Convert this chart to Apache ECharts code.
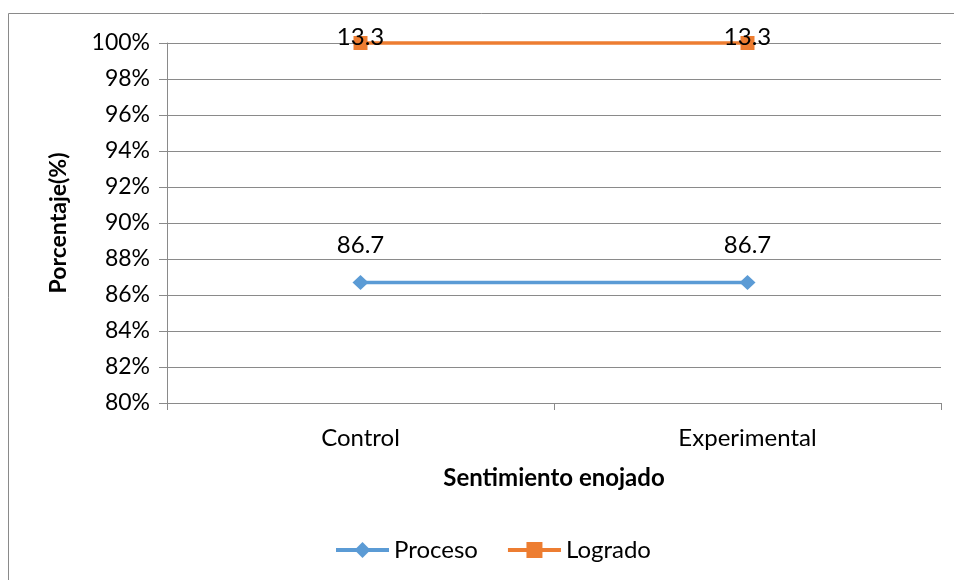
<!DOCTYPE html>
<html>
<head>
<meta charset="utf-8">
<script src="https://cdn.jsdelivr.net/npm/echarts@6/dist/echarts.min.js"></script>
<style>html,body{margin:0;padding:0;background:#fff}#c{width:954px;height:580px}</style>
</head>
<body>
<div id="c"></div>
<script>
const categories = ['Control', 'Experimental'];
const proceso = [86.7, 86.7];
const logrado = [13.3, 13.3];
const yTicks = {min: 80, max: 100, interval: 2};

const FONT = 'Lato';
const chart = echarts.init(document.getElementById('c'), null, {renderer: 'canvas'});
chart.setOption({
  animation: false,
  backgroundColor: '#fff',
  textStyle: {fontFamily: FONT},
  graphic: [{type: 'rect', shape: {x: 8.5, y: 13.5, width: 1200, height: 1200}, style: {fill: 'none', stroke: '#8a8a8a', lineWidth: 1}, silent: true}],
  grid: {left: 167, right: 13, top: 43, bottom: 177},
  legend: {
    bottom: 13, left: 329, itemGap: 28, itemWidth: 53, itemHeight: 20,
    lineStyle: {width: 4},
    textStyle: {fontFamily: FONT, fontSize: 24, color: '#000'},
    data: ['Proceso', 'Logrado']
  },
  xAxis: {
    type: 'category', data: categories, boundaryGap: true,
    name: 'Sentimiento enojado', nameLocation: 'middle', nameGap: 63,
    nameTextStyle: {fontFamily: FONT, fontWeight: 'bold', fontSize: 24, color: '#000'},
    axisLine: {lineStyle: {color: '#8a8a8a', width: 1}},
    axisTick: {show: true, length: 7, lineStyle: {color: '#8a8a8a'}},
    axisLabel: {fontFamily: FONT, fontSize: 24, color: '#000', margin: 23}
  },
  yAxis: {
    type: 'value', min: yTicks.min, max: yTicks.max, interval: yTicks.interval,
    name: 'Porcentaje(%)', nameLocation: 'middle', nameGap: 97, nameRotate: 90,
    nameTextStyle: {fontFamily: FONT, fontWeight: 'bold', fontSize: 23, color: '#000'},
    axisLine: {show: true, lineStyle: {color: '#8a8a8a', width: 1}},
    axisTick: {show: true, length: 8, lineStyle: {color: '#8a8a8a'}},
    splitLine: {show: true, lineStyle: {color: '#8a8a8a', width: 1}},
    axisLabel: {fontFamily: FONT, fontSize: 23, color: '#000', margin: 17, formatter: '{value}%'}
  },
  series: [
    {
      name: 'Proceso', type: 'line', stack: 'total', data: proceso,
      color: '#5B9BD5', symbol: 'diamond', symbolSize: [16, 15], clip: false,
      lineStyle: {width: 3.5, color: '#5B9BD5'}, itemStyle: {color: '#5B9BD5'},
      label: {show: true, position: 'top', distance: 18, fontFamily: FONT, fontSize: 24, color: '#000', formatter: p => p.value}
    },
    {
      name: 'Logrado', type: 'line', stack: 'total', data: logrado,
      color: '#ED7D31', symbol: 'rect', symbolSize: 14, clip: false,
      lineStyle: {width: 3.5, color: '#ED7D31'}, itemStyle: {color: '#ED7D31'},
      label: {show: true, position: 'top', distance: -13, fontFamily: FONT, fontSize: 24, color: '#000', formatter: p => p.value}
    }
  ]
});
</script>
</body>
</html>
